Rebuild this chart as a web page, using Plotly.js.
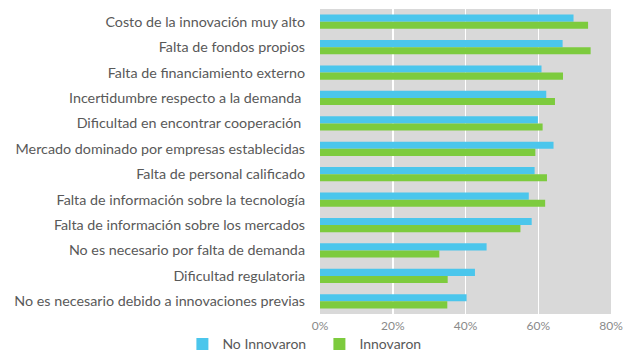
<!DOCTYPE html>
<html>
<head>
<meta charset="utf-8">
<script src="https://cdn.plot.ly/plotly-3.0.1.min.js"></script>
<style>html,body{margin:0;padding:0;background:#fff;}#chart{width:640px;height:358px;}</style>
</head>
<body>
<div id="chart"></div>
<script>
var categories = [
  "Costo de la innovación muy alto",
  "Falta de fondos propios",
  "Falta de financiamiento externo",
  "Incertidumbre respecto a la demanda ",
  "Dificultad en encontrar cooperación ",
  "Mercado dominado por empresas establecidas",
  "Falta de personal calificado",
  "Falta de información sobre la tecnología",
  "Falta de información sobre los mercados",
  "No es necesario por falta de demanda",
  "Dificultad regulatoria",
  "No es necesario debido a innovaciones previas"
];
var noInnovaron = [0.697, 0.667, 0.609, 0.622, 0.599, 0.642, 0.590, 0.574, 0.582, 0.458, 0.426, 0.403];
var innovaron   = [0.737, 0.744, 0.668, 0.646, 0.612, 0.592, 0.624, 0.619, 0.551, 0.328, 0.351, 0.350];
var xTickVals = [0, 0.2, 0.4, 0.6, 0.8];
var xTickText = ["0%", "20%", "40%", "60%", "80%"];

var traces = [
  {type: "bar", orientation: "h", name: "No Innovaron", y: categories, x: noInnovaron,
   marker: {color: "#4BC6EC"}, hoverinfo: "x+y"},
  {type: "bar", orientation: "h", name: "Innovaron", y: categories, x: innovaron,
   marker: {color: "#7DCB3E"}, hoverinfo: "x+y"}
];

var layout = {
  width: 640, height: 358,
  margin: {l: 320, r: 29, t: 9, b: 44, pad: 0, autoexpand: false},
  paper_bgcolor: "#ffffff",
  plot_bgcolor: "#D9D9D9",
  font: {family: "Lato, 'Open Sans', sans-serif", color: "#595959", size: 14},
  barmode: "group",
  bargap: 0.44,
  bargroupgap: 0,
  xaxis: {
    range: [0, 0.8], tickvals: xTickVals, ticktext: xTickText,
    showgrid: true, gridcolor: "#ffffff", gridwidth: 1.5,
    zeroline: false, showline: false, ticks: "",
    ticklabelstandoff: 3,
    tickfont: {size: 12, color: "#8a8a8a"}, fixedrange: true
  },
  yaxis: {
    autorange: "reversed", ticks: "", showgrid: false, showline: false,
    ticklabelstandoff: 14,
    tickfont: {size: 14.3, color: "#595959"}, fixedrange: true
  },
  legend: {
    orientation: "h", xref: "container", yref: "container",
    x: 0.285, xanchor: "left", y: 0.038, yanchor: "middle",
    entrywidth: 92,
    font: {size: 14, color: "#595959"}, traceorder: "normal",
    bgcolor: "rgba(0,0,0,0)"
  },
  showlegend: true
};

Plotly.newPlot("chart", traces, layout, {displayModeBar: false, staticPlot: true});
</script>
</body>
</html>
